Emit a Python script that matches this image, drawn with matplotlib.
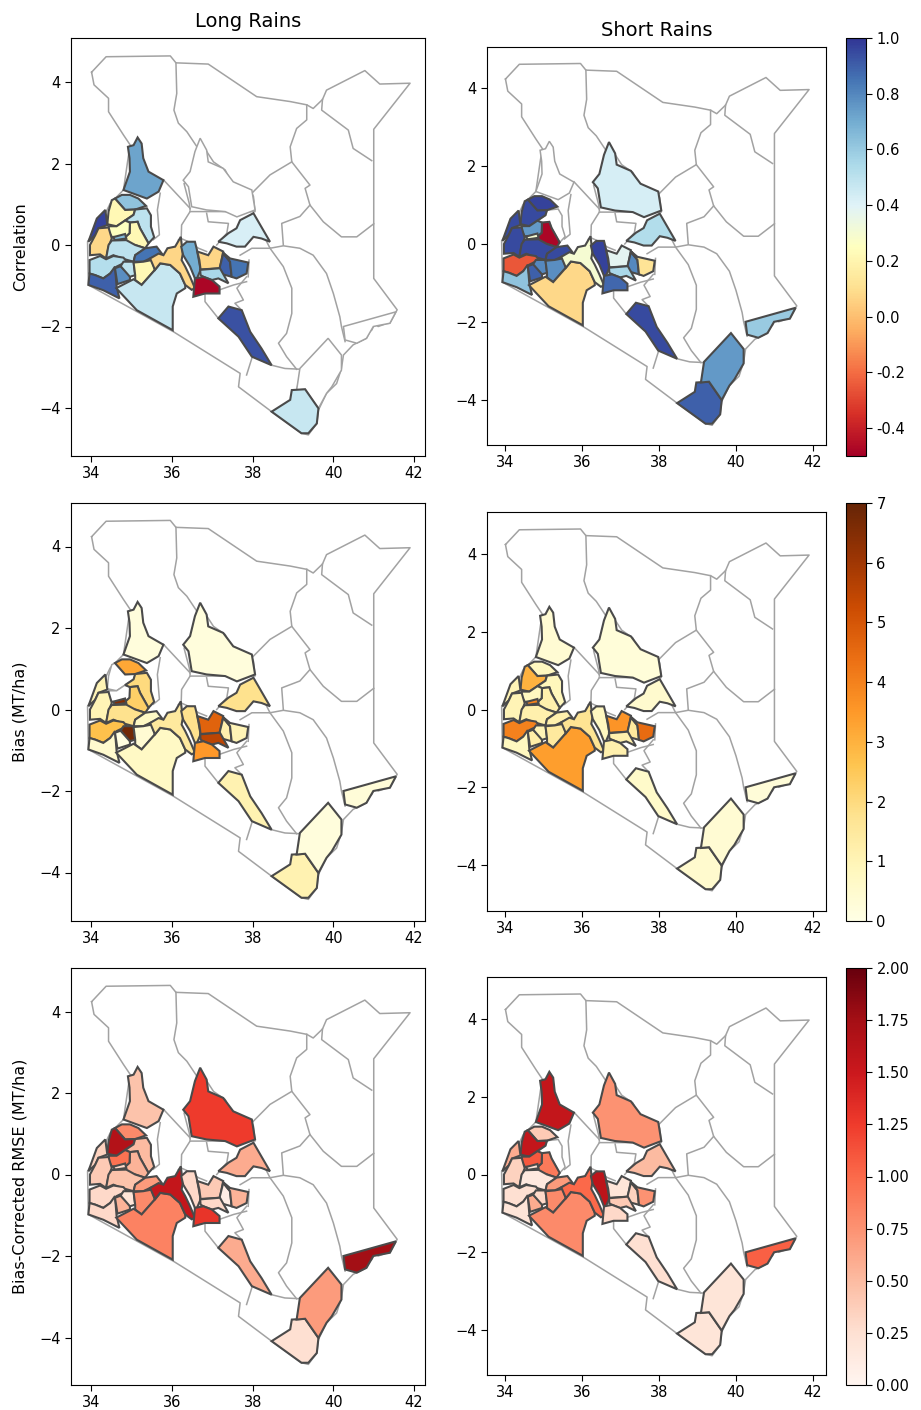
import numpy as np
import matplotlib
matplotlib.use("Agg")
import matplotlib.pyplot as plt
from matplotlib.patches import Polygon
from matplotlib.colors import Normalize
from matplotlib.cm import ScalarMappable

nan = np.nan

# --- county outlines (lon, lat) ---
pokot = [(34.91,2.41),(35.05,2.45),(35.15,2.64),(35.25,2.49),(35.29,2.13),(35.42,1.80),(35.79,1.59),(35.67,1.31),(35.38,1.14),(35.13,1.23),(34.80,1.35),(34.96,1.80),(34.95,2.13)]
samburu = [(36.28,1.59),(36.45,1.80),(36.57,2.29),(36.70,2.62),(36.86,2.33),(36.90,2.04),(37.27,1.88),(37.52,1.55),(37.98,1.35),(38.06,0.86),(37.61,0.69),(37.32,0.82),(36.86,0.86),(36.49,0.94),(36.41,1.43)]
transnzoia = [(34.59,1.14),(34.76,1.23),(34.96,1.23),(35.17,1.14),(35.36,0.96),(35.09,0.87),(34.84,0.86)]
bungoma = [(34.51,1.10),(34.59,1.14),(34.84,0.86),(35.09,0.87),(35.05,0.74),(34.84,0.60),(34.63,0.46),(34.40,0.51),(34.43,0.82)]
elgeyo = [(35.09,0.87),(35.38,0.90),(35.48,0.73),(35.48,0.45),(35.56,0.19),(35.42,0.04),(35.21,0.41),(35.15,0.57),(34.96,0.55),(34.84,0.60),(35.05,0.74)]
uasin = [(34.96,0.55),(35.15,0.57),(35.21,0.41),(35.42,0.04),(35.34,-0.08),(35.09,0.00),(34.84,0.04),(34.84,0.19),(34.95,0.29)]
kakamega = [(34.43,0.46),(34.63,0.46),(34.84,0.60),(34.96,0.55),(34.95,0.29),(34.84,0.19),(34.51,0.20),(34.43,0.33)]
vihiga = [(34.54,0.19),(34.84,0.27),(34.87,0.16),(34.59,0.12)]
busia = [(33.93,0.08),(34.14,0.65),(34.35,0.86),(34.40,0.49),(34.18,0.41),(34.10,0.24)]
siaya = [(33.97,-0.25),(33.97,0.00),(34.10,0.24),(34.18,0.41),(34.43,0.43),(34.51,0.16),(34.43,-0.04),(34.37,-0.33),(34.22,-0.23)]
kisumu = [(34.43,0.00),(34.51,0.11),(34.87,0.12),(35.09,0.00),(35.34,-0.08),(35.09,-0.25),(35.05,-0.41),(34.76,-0.33),(34.55,-0.25),(34.37,-0.33)]
kericho = [(35.05,-0.41),(35.09,-0.25),(35.34,-0.08),(35.62,-0.04),(35.75,-0.21),(35.46,-0.33),(35.29,-0.41)]
homabay = [(33.96,-0.37),(34.22,-0.27),(34.37,-0.35),(34.55,-0.27),(34.80,-0.31),(34.88,-0.41),(34.63,-0.53),(34.47,-0.70),(34.30,-0.82),(34.10,-0.74),(33.96,-0.70)]
migori = [(33.93,-0.98),(33.96,-0.70),(34.10,-0.74),(34.30,-0.82),(34.47,-0.70),(34.59,-0.53),(34.63,-1.02),(34.70,-1.31),(34.30,-1.11)]
kisii = [(34.59,-0.57),(34.73,-0.52),(34.96,-0.74),(34.96,-0.86),(34.65,-0.96)]
nyamira = [(34.80,-0.41),(35.05,-0.41),(35.09,-0.74),(34.96,-0.78),(34.73,-0.52)]
bomet = [(35.05,-0.43),(35.29,-0.41),(35.50,-0.37),(35.58,-0.61),(35.25,-0.98),(35.09,-0.86),(35.09,-0.74)]
narok = [(34.62,-1.06),(35.05,-0.84),(35.25,-0.98),(35.58,-0.61),(35.71,-0.45),(35.96,-0.49),(36.20,-0.70),(36.33,-0.98),(36.33,-1.06),(36.12,-1.19),(36.02,-1.51),(36.02,-2.09),(35.13,-1.60)]
nakuru = [(35.46,-0.33),(35.67,-0.21),(35.79,-0.25),(35.89,-0.08),(36.08,-0.04),(36.22,0.20),(36.27,-0.21),(36.24,-0.37),(36.33,-0.53),(36.45,-0.78),(36.57,-1.06),(36.49,-1.10),(36.33,-0.98),(36.20,-0.70),(35.96,-0.49),(35.71,-0.45),(35.58,-0.61)]
nyandarua = [(36.23,-0.04),(36.37,0.08),(36.57,0.08),(36.62,-0.12),(36.66,-0.33),(36.71,-0.61),(36.62,-0.82),(36.57,-0.82),(36.45,-0.53),(36.28,-0.25)]
nyeri = [(36.63,-0.16),(36.90,-0.25),(37.03,-0.04),(37.27,-0.16),(37.19,-0.57),(36.71,-0.60),(36.68,-0.37)]
kirinyaga = [(37.18,-0.57),(37.27,-0.21),(37.44,-0.41),(37.48,-0.78),(37.19,-0.70)]
embu = [(37.27,-0.19),(37.44,-0.33),(37.89,-0.43),(37.85,-0.70),(37.60,-0.82),(37.48,-0.78),(37.44,-0.41)]
muranga = [(36.70,-0.61),(37.19,-0.57),(37.40,-0.94),(37.15,-0.82),(36.99,-0.86),(36.78,-0.78),(36.71,-0.74)]
kiambu = [(36.57,-0.82),(36.78,-0.78),(36.99,-0.86),(37.18,-1.02),(37.18,-1.19),(36.82,-1.19),(36.53,-1.27)]
meru = [(37.15,0.08),(37.40,0.29),(37.60,0.41),(37.69,0.61),(38.02,0.78),(38.43,0.08),(38.22,0.16),(38.02,0.20),(37.81,-0.04),(37.60,-0.04),(37.36,0.04)]
makueni = [(37.15,-1.80),(37.40,-1.51),(37.73,-1.60),(37.94,-2.13),(38.22,-2.54),(38.47,-2.95),(37.98,-2.74),(37.65,-2.25)]
kwale = [(38.47,-4.09),(38.93,-3.80),(38.97,-3.56),(39.30,-3.54),(39.63,-4.01),(39.59,-4.38),(39.38,-4.62),(39.21,-4.62)]
kilifi = [(39.17,-3.03),(39.87,-2.29),(40.20,-2.70),(40.20,-3.07),(39.96,-3.48),(39.83,-3.64),(39.63,-4.01),(39.30,-3.54),(39.09,-3.56)]
lamu = [(40.25,-2.00),(41.55,-1.64),(41.40,-1.92),(40.99,-2.00),(40.82,-2.29),(40.58,-2.41),(40.29,-2.33)]

counties = [pokot, samburu, transnzoia, bungoma, elgeyo, uasin, kakamega, vihiga, busia, siaya,
            kisumu, kericho, homabay, migori, kisii, nyamira, bomet, narok, nakuru, nyandarua,
            nyeri, kirinyaga, embu, muranga, kiambu, meru, makueni, kwale, kilifi, lamu]

# --- values per county, same order ---
corr_long = [0.72,nan,0.62,0.22,0.5,0.22,0.25,0.65,0.97,0.08,0.5,0.85,0.52,0.9,0.78,0.5,0.22,0.47,0.07,0.7,0.07,0.9,0.85,0.55,-0.48,0.42,0.93,0.47,nan,nan]
corr_short = [nan,0.43,0.97,0.95,nan,-0.48,0.75,0.3,0.95,0.95,0.95,0.95,-0.25,0.62,0.9,0.8,0.78,0.08,0.3,0.97,0.38,0.8,0.12,0.55,0.88,0.53,0.95,0.9,0.75,0.6]
bias_long = [0.2,0.2,3.2,nan,2.0,2.3,nan,6.5,1.0,1.0,1.8,0.7,2.7,0.5,0.1,6.8,0.4,0.7,1.5,1.8,4.7,1.2,1.0,5.5,3.5,1.8,1.1,1.1,0.2,0.3]
bias_short = [0.4,0.25,0.8,3.0,0.9,1.2,0.8,4.0,1.0,1.0,1.2,1.2,4.0,0.8,1.3,1.0,1.5,3.4,1.7,0.8,3.6,1.5,4.5,1.2,1.2,0.5,0.6,0.5,0.4,0.3]
rmse_long = [0.45,1.25,0.8,1.65,0.5,0.55,0.95,0.3,0.35,0.4,0.45,0.7,0.3,0.3,0.55,0.2,0.8,0.85,1.55,0.3,0.4,0.1,0.55,0.3,1.3,0.6,0.6,0.25,0.7,1.75]
rmse_short = [1.55,0.75,0.4,1.55,nan,0.9,1.1,0.2,0.6,0.35,0.15,0.7,0.25,0.2,0.6,0.3,0.8,0.8,1.0,1.6,0.2,0.35,0.75,0.4,0.3,0.5,0.25,0.2,0.2,1.05]

# --- grey boundaries of the country and the other counties ---
outline = [(34.01,4.24),(34.07,3.93),(34.43,3.60),(34.43,3.27),(34.80,2.70),(34.97,2.45),(34.92,2.17),(34.80,1.35),(34.47,1.02),(34.31,0.69),(34.10,0.37),(33.91,0.08),(33.93,-0.98),(36.04,-2.13),(37.69,-3.15),(37.65,-3.48),(38.47,-4.09),(39.21,-4.62),(39.38,-4.66),(39.59,-4.38),(39.63,-4.05),(39.83,-3.64),(40.08,-3.40),(40.20,-3.03),(40.25,-2.70),(40.49,-2.45),(40.82,-2.29),(40.99,-1.96),(41.40,-1.92),(41.58,-1.59),(41.00,-0.82),(41.00,2.84),(41.90,3.97),(41.15,3.95),(40.78,4.28),(39.83,3.80),(39.73,3.57),(39.50,3.35),(39.34,3.44),(38.93,3.52),(38.10,3.64),(36.90,4.44),(36.10,4.47),(35.96,4.64),(34.37,4.62),(34.01,4.24)]
turkana_east = [(36.10,4.47),(36.12,3.72),(36.05,3.31),(36.16,2.99),(36.37,2.78),(36.62,2.41),(36.74,2.48),(37.03,2.04),(37.32,1.84),(37.56,1.35),(37.98,1.27),(38.43,1.72),(38.97,2.04),(38.93,2.41),(39.09,2.86),(39.34,3.07),(39.34,3.44)]
turkana_south = [(36.74,2.48),(36.71,2.21),(36.57,2.09),(36.45,1.55),(36.30,1.51),(36.43,1.02),(36.45,0.86)]
baringo_north = [(35.79,1.60),(36.45,0.90)]
samburu_south = [(36.45,0.82),(36.86,0.82),(38.06,0.82),(38.02,1.19),(37.98,1.27)]
laikipia_west = [(36.45,0.82),(36.24,0.49),(36.23,0.16),(36.16,0.12)]
laikipia_east = [(36.86,0.78),(36.90,0.57),(37.40,0.53),(37.36,0.29),(37.11,0.00)]
laikipia_south = [(36.23,0.16),(36.41,0.08),(36.66,-0.08),(36.86,-0.16)]
baringo_strip = [(35.71,1.27),(35.64,0.86),(35.69,0.25),(35.54,0.13)]
wajir_south = [(38.97,2.04),(39.42,1.47),(39.30,1.39),(39.42,0.98),(39.75,0.57),(40.20,0.20),(40.58,0.20),(41.00,0.52)]
isiolo_south = [(39.42,0.98),(39.17,0.70),(38.72,0.53),(38.76,0.00)]
garissa_west = [(38.06,0.65),(38.43,-0.08),(38.76,-0.02),(39.17,-0.08),(39.50,-0.25),(39.83,-0.70),(40.00,-1.19),(40.16,-1.76),(40.20,-2.00),(40.29,-2.37)]
kitui_east = [(38.43,-0.08),(38.76,-0.53),(38.97,-1.06),(38.97,-1.68),(38.84,-2.17),(38.64,-2.41),(38.84,-2.74),(39.09,-3.05)]
kitui_south = [(38.47,-2.95),(38.80,-3.03),(39.21,-3.05),(39.09,-3.56)]
taita_west = [(37.98,-2.78),(37.85,-3.19)]
kajiado_north = [(36.82,-1.19),(36.82,-1.39),(37.15,-1.80)]
machakos_east = [(37.85,-0.78),(37.61,-1.06),(37.77,-1.35),(37.56,-1.43),(37.73,-1.60)]
machakos_north = [(37.18,-1.10),(37.53,-0.98),(37.85,-0.90)]
mandera_south = [(39.73,3.57),(39.71,3.31),(40.37,2.82),(40.49,2.37),(40.95,2.07)]
meru_south = [(37.69,-0.25),(37.98,-0.08),(38.43,-0.08)]
kitui_north = [(37.91,-0.37),(37.89,-0.78)]
lamu_creek = [(40.78,-2.21),(40.95,-2.09),(41.03,-1.92),(41.11,-2.00),(41.28,-1.94)]

grey_lines = [outline, turkana_east, turkana_south, baringo_north, samburu_south, laikipia_west,
              laikipia_east, laikipia_south, baringo_strip, wajir_south, isiolo_south, garissa_west,
              kitui_east, kitui_south, taita_west, kajiado_north, machakos_east,
              machakos_north, mandera_south, meru_south, kitui_north, lamu_creek]

W, H = 921, 1410
fig = plt.figure(figsize=(W / 100, H / 100), dpi=100)


def px_axes(left, top, right, bottom):
    return fig.add_axes([left / W, 1 - bottom / H, (right - left) / W, (bottom - top) / H])


def draw_map(ax, values, cmap, norm, xlim, ylim):
    for line in grey_lines:
        xy = np.array(line)
        ax.plot(xy[:, 0], xy[:, 1], color="#a2a2a2", lw=1.1, zorder=1)
    for poly, v in zip(counties, values):
        if np.isnan(v):
            ax.add_patch(Polygon(poly, facecolor="white", edgecolor="#a2a2a2", lw=1.1, zorder=2))
    for poly, v in zip(counties, values):
        if not np.isnan(v):
            ax.add_patch(Polygon(poly, facecolor=cmap(norm(v)), edgecolor="#4a4a4a", lw=1.5, zorder=3))
    ax.set_xlim(*xlim)
    ax.set_ylim(*ylim)
    ax.set_xticks([34, 36, 38, 40, 42])
    ax.set_yticks([-4, -2, 0, 2, 4])
    ax.tick_params(labelsize=10.5, length=4)


# --- panels ---
rows = [
    (38, 456, 47, 445, 245, 244, "Correlation", corr_long, corr_short, "RdYlBu", -0.5, 1.0),
    (503, 921, 512, 911, 709.5, 709.5, "Bias (MT/ha)", bias_long, bias_short, "YlOrBr", 0, 7),
    (968, 1385, 977, 1375, 1174.5, 1174.5, "Bias-Corrected RMSE (MT/ha)", rmse_long, rmse_short, "Reds", 0, 2),
]
cbar_ticks = [np.arange(-0.4, 1.01, 0.2), np.arange(0, 8), np.arange(0, 2.01, 0.25)]
cbar_fmt = ["%.1f", "%d", "%.2f"]

for i, (top_l, bot_l, top_r, bot_r, y0_l, y0_r, label, vals_l, vals_r, cname, vmin, vmax) in enumerate(rows):
    cmap = plt.get_cmap(cname)
    norm = Normalize(vmin, vmax)

    ax = px_axes(71, top_l, 425, bot_l)
    draw_map(ax, vals_l, cmap, norm, (33.5, 42.27),
             (-(bot_l - y0_l) / 40.75, (y0_l - top_l) / 40.75))
    ax.set_ylabel(label, fontsize=11.5, labelpad=8)
    if i == 0:
        ax.set_title("Long Rains", fontsize=14, pad=8)

    ax = px_axes(487, top_r, 826, bot_r)
    draw_map(ax, vals_r, cmap, norm, (33.53, 42.34),
             (-(bot_r - y0_r) / 38.9, (y0_r - top_r) / 38.9))
    if i == 0:
        ax.set_title("Short Rains", fontsize=14, pad=8)

    cax = px_axes(846, top_l, 866, bot_l)
    cb = fig.colorbar(ScalarMappable(norm=norm, cmap=cmap), cax=cax, format=cbar_fmt[i])
    cb.set_ticks(cbar_ticks[i])
    cb.ax.tick_params(labelsize=10.5, length=4)

fig.savefig("out.png", dpi=100)
